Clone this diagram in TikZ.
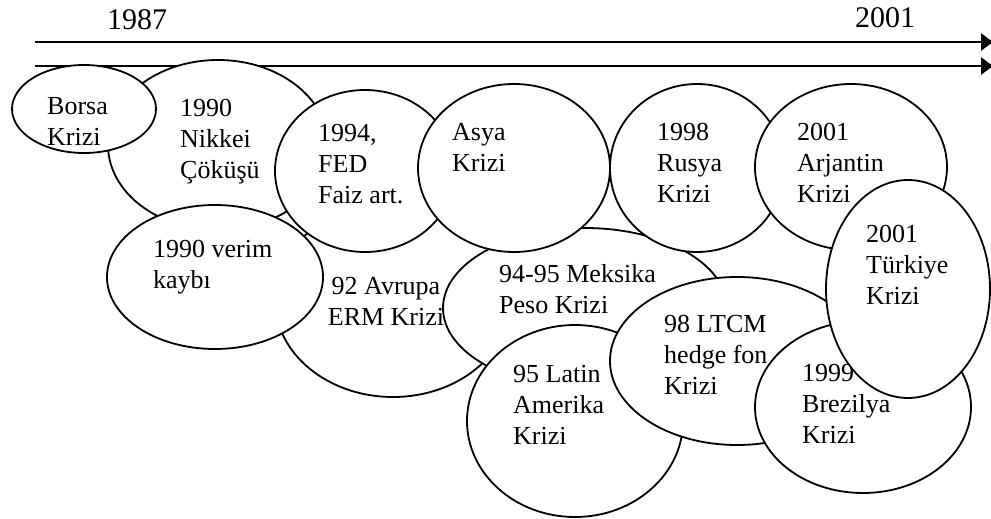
\documentclass[tikz,border=0pt]{standalone}
\usepackage{fontspec}
\setmainfont{Liberation Serif}
\usetikzlibrary{shapes.geometric,arrows.meta}
\begin{document}
\begin{tikzpicture}[x=1pt,y=-1pt,
  oval/.style={ellipse, draw, fill=white, line width=1.8pt, inner sep=0pt},
  txt/.style={anchor=north west, inner sep=0pt, align=left, font=\fontsize{26}{31}\selectfont},
  ctxt/.style={anchor=north, inner sep=0pt, align=center, font=\fontsize{26}{31}\selectfont},
  yr/.style={anchor=base west, inner sep=0pt, font=\fontsize{30}{34}\selectfont},
  axis/.style={line width=2.6pt, -{Triangle[length=12pt,width=17pt]}}]
\useasboundingbox (0,0) rectangle (991,519);
% year labels and axes
\node[yr] (y1987) at (107,30) {1987};
\node[yr] (y2001) at (855,28) {2001};
\coordinate (a1s) at (35,42);
\coordinate (a1e) at (993,42);
\coordinate (a2s) at (35,66);
\coordinate (a2e) at (993,66);
\draw[axis] (a1s) -- (a1e);
\draw[axis] (a2s) -- (a2e);
% ellipses, bottom to top
\node[oval, minimum width=220pt, minimum height=170pt] (nikkei) at (218,145) {};
\node[txt] (tnikkei) at (180,99) {1990\\Nikkei\\Çöküşü};
\node[oval, minimum width=144pt, minimum height=88pt] (borsa) at (84,109) {};
\node[txt] (tborsa) at (47,97) {Borsa\\Krizi};
\node[oval, minimum width=236pt, minimum height=194pt] (avrupa) at (393,300) {};
\node[ctxt] (tavrupa) at (386,277) {92 Avrupa\\ERM Krizi};
\node[oval, minimum width=180pt, minimum height=162pt] (fed) at (365,171) {};
\node[txt] (tfed) at (318,124) {1994,\\FED\\Faiz art.};
\node[oval, minimum width=216pt, minimum height=144pt] (verim) at (215,277) {};
\node[txt] (tverim) at (153,240) {1990 verim\\kaybı};
\node[oval, minimum width=284pt, minimum height=160pt] (meksika) at (585,308) {};
\node[txt] (tmeksika) at (499,264) {94-95 Meksika\\Peso Krizi};
\node[oval, minimum width=192pt, minimum height=168pt] (asya) at (514,168) {};
\node[txt] (tasya) at (452,123) {Asya\\Krizi};
\node[oval, minimum width=174pt, minimum height=168pt] (rusya) at (697,168) {};
\node[txt] (trusya) at (657,123) {1998\\Rusya\\Krizi};
\node[oval, minimum width=192pt, minimum height=166pt] (arjantin) at (851,167) {};
\node[txt] (tarjantin) at (797,123) {2001\\Arjantin\\Krizi};
\node[oval, minimum width=216pt, minimum height=192pt] (latin) at (575,421) {};
\node[txt] (tlatin) at (513,365) {95 Latin\\Amerika\\Krizi};
\node[oval, minimum width=254pt, minimum height=168pt] (ltcm) at (737,361) {};
\node[txt] (tltcm) at (664,315) {98 LTCM\\hedge fon\\Krizi};
\node[oval, minimum width=216pt, minimum height=172pt] (brezilya) at (863,407) {};
\node[txt] (tbrezilya) at (802,364) {1999\\Brezilya\\Krizi};
\node[oval, minimum width=164pt, minimum height=218pt] (turkiye) at (908,289) {};
\node[txt] (tturkiye) at (866,225) {2001\\Türkiye\\Krizi};
\end{tikzpicture}
\end{document}
